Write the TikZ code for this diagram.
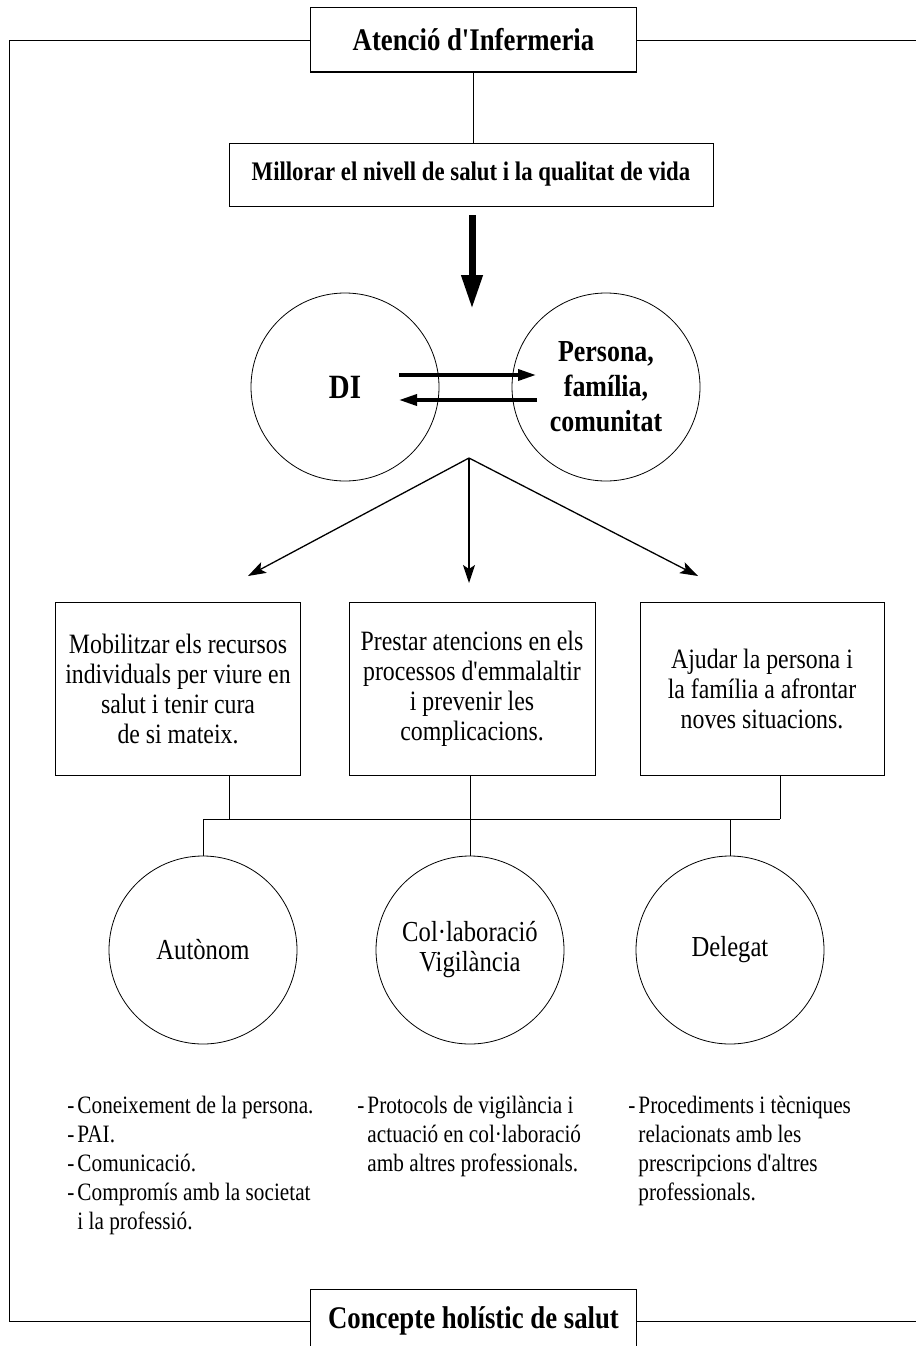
\documentclass[tikz,border=0pt]{standalone}
\usepackage{fontspec}
\setmainfont{Liberation Serif}[Ligatures=TeXOff, FakeStretch=0.85]
\usetikzlibrary{arrows.meta,calc}
\begin{document}
\begin{tikzpicture}[x=1pt,y=-1pt,
  line width=0.8pt,
  box/.style={draw, line width=1pt, inner sep=0pt, align=center},
  circ/.style={draw, circle, line width=0.8pt, inner sep=0pt, minimum size=188pt, align=center},
  titlefont/.style={font=\bfseries\fontsize{31.5}{35}\selectfont},
  boxfont/.style={font=\fontsize{28}{30}\selectfont},
  circfont/.style={font=\fontsize{29}{30}\selectfont},
  listfont/.style={font=\fontsize{25}{29}\selectfont},
  bigarrow/.style={line width=7pt, -{Triangle[length=34pt,width=20pt]}},
  swaparrow/.style={line width=3.5pt, -{Triangle[length=18pt,width=11pt]}},
  brancharrow/.style={line width=1.3pt, -{Stealth[length=18pt,width=12pt,inset=4pt]}},
  listnode/.style={anchor=base west, inner sep=0pt, listfont}
]
\useasboundingbox (0,0) rectangle (916,1346);

% title boxes
\node[box, titlefont, minimum width=326pt, minimum height=64pt] (top) at (473.5,40) {Atenció d'Infermeria};
\node[box, titlefont, minimum width=326pt, minimum height=64pt] (bot) at (473.5,1321) {Concepte holístic de salut};

% frame
\coordinate (fTL) at (9,40);
\coordinate (fBL) at (9,1321);
\coordinate (fTR) at (916,40);
\coordinate (fBR) at (916,1321);
\draw (top.west) -- (fTL) -- (fBL) -- (bot.west);
\draw (top.east) -- (fTR);
\draw (bot.east) -- (fBR);

% goal
\node[box, font=\bfseries\fontsize{26.8}{30}\selectfont, minimum width=484pt, minimum height=63pt] (goal) at (471,174.5) {Millorar el nivell de salut i la qualitat de vida};
\draw (top.south) -- (top.south |- goal.north);

% big arrow
\coordinate (dtop) at (472,215);
\coordinate (dtip) at (472,309);
\draw[bigarrow] (dtop) -- (dtip);

% circles DI / persona
\node[circ, font=\bfseries\fontsize{34}{38}\selectfont] (di) at (345,387) {DI};
\node[circ, font=\bfseries\fontsize{30.5}{35}\selectfont] (pfc) at (606,387) {Persona,\\família,\\comunitat};
\draw[swaparrow] ($(di.center)+(54,-12)$) -- ($(pfc.center)+(-70,-12)$);
\draw[swaparrow] ($(pfc.center)+(-69,13)$) -- ($(di.center)+(54,13)$);

% branch arrows
\coordinate (br) at (469,458);
\coordinate (tL) at (248,576);
\coordinate (tM) at (469,583);
\coordinate (tR) at (698,576);
\draw[brancharrow] (br) -- (tL);
\draw[brancharrow] (br) -- (tM);
\draw[brancharrow] (br) -- (tR);

% boxes row
\node[box, boxfont, minimum width=245pt, minimum height=173pt] (b1) at (178,688.5) {Mobilitzar els recursos\\individuals per viure en\\salut i tenir cura\\de si mateix.};
\node[box, boxfont, minimum width=246pt, minimum height=173pt] (b2) at (472,688.5) {Prestar atencions en els\\processos d'emmalaltir\\i prevenir les\\complicacions.};
\node[box, boxfont, minimum width=244pt, minimum height=173pt] (b3) at (762,688.5) {Ajudar la persona i\\la família a afrontar\\noves situacions.};

% circles row
\node[circ, circfont] (c1) at (203,950) {Autònom};
\node[circ, circfont] (c2) at (470,950) {Col·laboració\\Vigilància};
\node[circ, circfont] (c3) at (730,950) {Delegat};

% bus
\coordinate (busL) at (203,819);
\coordinate (busR) at (780,819);
\draw (busL) -- (busR);
\draw ([xshift=51pt]b1.south) -- ([xshift=51pt]b1.south |- busL);
\draw ([xshift=18pt]b3.south) -- ([xshift=18pt]b3.south |- busR);
\draw (b2.south -| c2.north) -- (c2.north);
\draw (c1.north |- busL) -- (c1.north);
\draw (c3.north |- busL) -- (c3.north);

% lists
\node[listnode] (l1) at (67,1113) {\begin{tabular}[t]{@{}l@{\hspace{3pt}}l@{}}
-&Coneixement de la persona.\\
-&PAI.\\
-&Comunicació.\\
-&Compromís amb la societat\\
&i la professió.
\end{tabular}};
\node[listnode] (l2) at (357,1113) {\begin{tabular}[t]{@{}l@{\hspace{3pt}}l@{}}
-&Protocols de vigilància i\\
&actuació en col·laboració\\
&amb altres professionals.
\end{tabular}};
\node[listnode] (l3) at (628,1113) {\begin{tabular}[t]{@{}l@{\hspace{3pt}}l@{}}
-&Procediments i tècniques\\
&relacionats amb les\\
&prescripcions d'altres\\
&professionals.
\end{tabular}};
\end{tikzpicture}
\end{document}
